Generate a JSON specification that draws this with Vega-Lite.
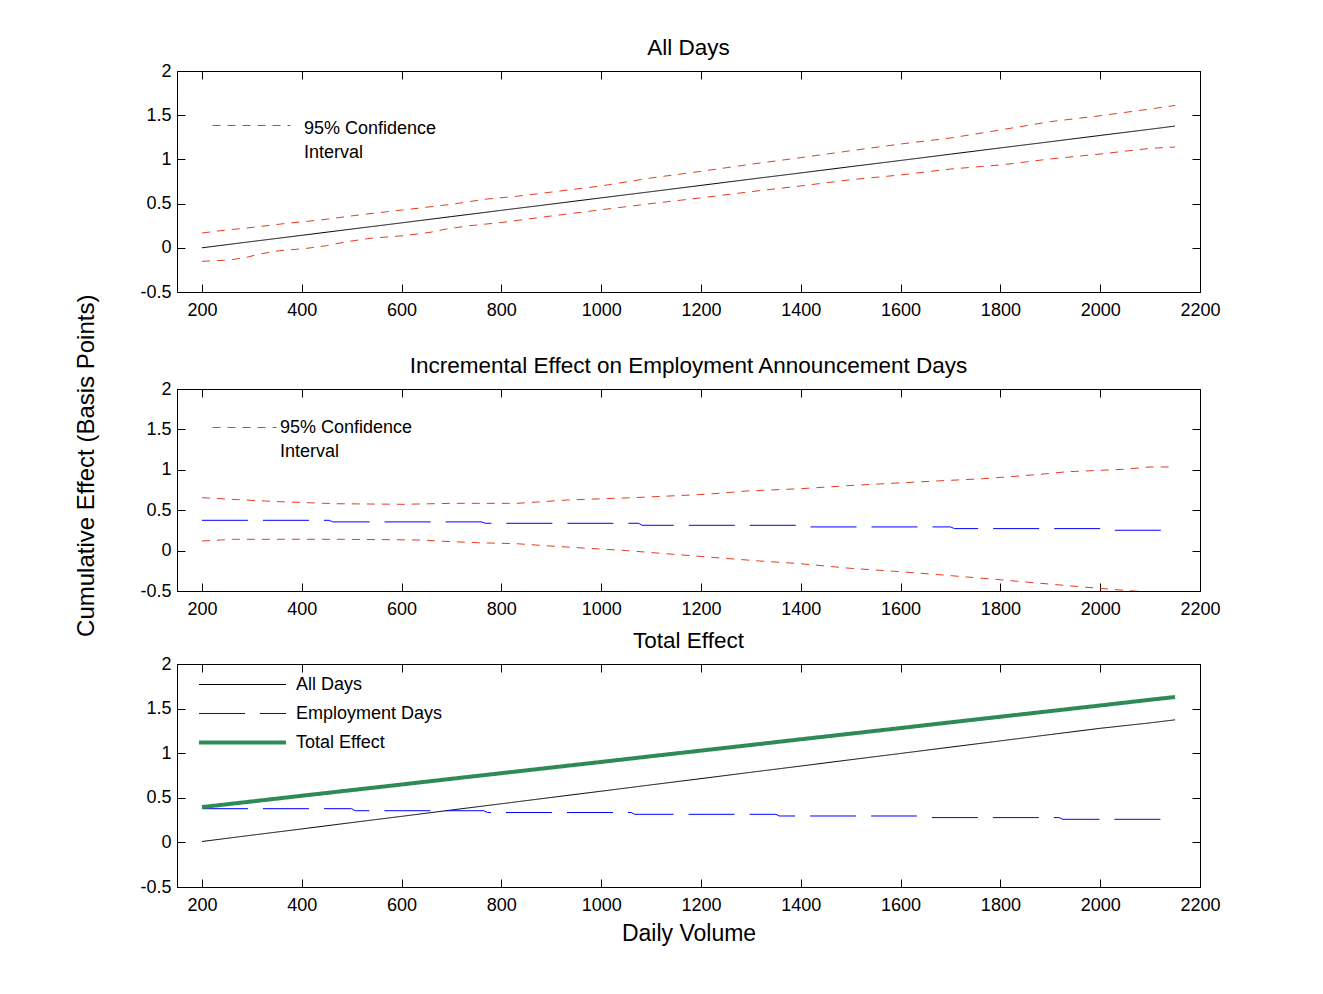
{
  "$schema": "https://vega.github.io/schema/vega-lite/v6.json",
  "background": "white",
  "padding": {"left": 75, "top": 36, "right": 0, "bottom": 0},
  "title": {"text": "Cumulative Effect (Basis Points)", "orient": "left", "anchor": "middle", "fontSize": 24, "fontWeight": "normal", "font": "Liberation Sans", "color": "black", "offset": 40, "dx": 25},
  "config": {
    "font": "Liberation Sans",
    "view": {"stroke": "black", "strokeWidth": 1},
    "title": {"fontSize": 22.5, "fontWeight": "normal", "font": "Liberation Sans", "color": "black", "offset": 3, "anchor": "middle"},
    "axis": {"grid": false, "domainColor": "black", "tickColor": "black", "labelColor": "black", "labelFont": "Liberation Sans", "labelFontSize": 18, "titleFont": "Liberation Sans", "titleFontSize": 23, "titleFontWeight": "normal", "titleColor": "black", "tickSize": -8, "labelFlush": false, "labelOverlap": false, "labelBound": false},
    "legend": {"labelFont": "Liberation Sans", "labelFontSize": 18, "labelColor": "black", "padding": 0, "rowPadding": 0, "labelLimit": 0}
  },
  "spacing": 10,
  "resolve": {
    "scale": {"x": "independent", "y": "independent", "color": "independent", "strokeDash": "independent", "strokeWidth": "independent"},
    "legend": {"color": "independent", "strokeDash": "independent", "strokeWidth": "independent"}
  },
  "datasets": {
    "p1": [
      {"s": "All Days", "b": "m", "x": 200, "y": 0.0},
      {"s": "All Days", "b": "m", "x": 300, "y": 0.071},
      {"s": "All Days", "b": "m", "x": 400, "y": 0.141},
      {"s": "All Days", "b": "m", "x": 500, "y": 0.212},
      {"s": "All Days", "b": "m", "x": 600, "y": 0.282},
      {"s": "All Days", "b": "m", "x": 700, "y": 0.353},
      {"s": "All Days", "b": "m", "x": 800, "y": 0.424},
      {"s": "All Days", "b": "m", "x": 900, "y": 0.494},
      {"s": "All Days", "b": "m", "x": 1000, "y": 0.565},
      {"s": "All Days", "b": "m", "x": 1100, "y": 0.635},
      {"s": "All Days", "b": "m", "x": 1200, "y": 0.706},
      {"s": "All Days", "b": "m", "x": 1300, "y": 0.777},
      {"s": "All Days", "b": "m", "x": 1400, "y": 0.847},
      {"s": "All Days", "b": "m", "x": 1500, "y": 0.918},
      {"s": "All Days", "b": "m", "x": 1600, "y": 0.988},
      {"s": "All Days", "b": "m", "x": 1700, "y": 1.059},
      {"s": "All Days", "b": "m", "x": 1800, "y": 1.13},
      {"s": "All Days", "b": "m", "x": 1900, "y": 1.2},
      {"s": "All Days", "b": "m", "x": 2000, "y": 1.271},
      {"s": "All Days", "b": "m", "x": 2100, "y": 1.341},
      {"s": "All Days", "b": "m", "x": 2150, "y": 1.377},
      {"s": "95% Confidence Interval", "b": "u", "x": 200, "y": 0.167},
      {"s": "95% Confidence Interval", "b": "u", "x": 236, "y": 0.193},
      {"s": "95% Confidence Interval", "b": "u", "x": 303, "y": 0.232},
      {"s": "95% Confidence Interval", "b": "u", "x": 370, "y": 0.277},
      {"s": "95% Confidence Interval", "b": "u", "x": 437, "y": 0.314},
      {"s": "95% Confidence Interval", "b": "u", "x": 503, "y": 0.363},
      {"s": "95% Confidence Interval", "b": "u", "x": 570, "y": 0.408},
      {"s": "95% Confidence Interval", "b": "u", "x": 637, "y": 0.45},
      {"s": "95% Confidence Interval", "b": "u", "x": 704, "y": 0.495},
      {"s": "95% Confidence Interval", "b": "u", "x": 771, "y": 0.552},
      {"s": "95% Confidence Interval", "b": "u", "x": 831, "y": 0.583},
      {"s": "95% Confidence Interval", "b": "u", "x": 900, "y": 0.63},
      {"s": "95% Confidence Interval", "b": "u", "x": 1000, "y": 0.7},
      {"s": "95% Confidence Interval", "b": "u", "x": 1100, "y": 0.79},
      {"s": "95% Confidence Interval", "b": "u", "x": 1200, "y": 0.865},
      {"s": "95% Confidence Interval", "b": "u", "x": 1300, "y": 0.945},
      {"s": "95% Confidence Interval", "b": "u", "x": 1400, "y": 1.02},
      {"s": "95% Confidence Interval", "b": "u", "x": 1500, "y": 1.098},
      {"s": "95% Confidence Interval", "b": "u", "x": 1600, "y": 1.174},
      {"s": "95% Confidence Interval", "b": "u", "x": 1700, "y": 1.242},
      {"s": "95% Confidence Interval", "b": "u", "x": 1800, "y": 1.333},
      {"s": "95% Confidence Interval", "b": "u", "x": 1900, "y": 1.427},
      {"s": "95% Confidence Interval", "b": "u", "x": 2000, "y": 1.494},
      {"s": "95% Confidence Interval", "b": "u", "x": 2100, "y": 1.57},
      {"s": "95% Confidence Interval", "b": "u", "x": 2150, "y": 1.61},
      {"s": "95% Confidence Interval", "b": "l", "x": 200, "y": -0.153},
      {"s": "95% Confidence Interval", "b": "l", "x": 256, "y": -0.138},
      {"s": "95% Confidence Interval", "b": "l", "x": 290, "y": -0.107},
      {"s": "95% Confidence Interval", "b": "l", "x": 316, "y": -0.07},
      {"s": "95% Confidence Interval", "b": "l", "x": 356, "y": -0.033},
      {"s": "95% Confidence Interval", "b": "l", "x": 410, "y": -0.006},
      {"s": "95% Confidence Interval", "b": "l", "x": 450, "y": 0.024},
      {"s": "95% Confidence Interval", "b": "l", "x": 490, "y": 0.069},
      {"s": "95% Confidence Interval", "b": "l", "x": 537, "y": 0.107},
      {"s": "95% Confidence Interval", "b": "l", "x": 603, "y": 0.137},
      {"s": "95% Confidence Interval", "b": "l", "x": 657, "y": 0.175},
      {"s": "95% Confidence Interval", "b": "l", "x": 690, "y": 0.213},
      {"s": "95% Confidence Interval", "b": "l", "x": 737, "y": 0.25},
      {"s": "95% Confidence Interval", "b": "l", "x": 803, "y": 0.288},
      {"s": "95% Confidence Interval", "b": "l", "x": 837, "y": 0.314},
      {"s": "95% Confidence Interval", "b": "l", "x": 900, "y": 0.36},
      {"s": "95% Confidence Interval", "b": "l", "x": 1000, "y": 0.43},
      {"s": "95% Confidence Interval", "b": "l", "x": 1100, "y": 0.5},
      {"s": "95% Confidence Interval", "b": "l", "x": 1200, "y": 0.565},
      {"s": "95% Confidence Interval", "b": "l", "x": 1300, "y": 0.635},
      {"s": "95% Confidence Interval", "b": "l", "x": 1400, "y": 0.7},
      {"s": "95% Confidence Interval", "b": "l", "x": 1500, "y": 0.77},
      {"s": "95% Confidence Interval", "b": "l", "x": 1600, "y": 0.824},
      {"s": "95% Confidence Interval", "b": "l", "x": 1700, "y": 0.891},
      {"s": "95% Confidence Interval", "b": "l", "x": 1800, "y": 0.937},
      {"s": "95% Confidence Interval", "b": "l", "x": 1900, "y": 1.005},
      {"s": "95% Confidence Interval", "b": "l", "x": 2000, "y": 1.061},
      {"s": "95% Confidence Interval", "b": "l", "x": 2100, "y": 1.125},
      {"s": "95% Confidence Interval", "b": "l", "x": 2150, "y": 1.14}
    ],
    "p2": [
      {"s": "Employment Days", "b": "m", "x": 200, "y": 0.375},
      {"s": "Employment Days", "b": "m", "x": 455, "y": 0.375},
      {"s": "Employment Days", "b": "m", "x": 462, "y": 0.355},
      {"s": "Employment Days", "b": "m", "x": 760, "y": 0.355},
      {"s": "Employment Days", "b": "m", "x": 768, "y": 0.338},
      {"s": "Employment Days", "b": "m", "x": 1075, "y": 0.338},
      {"s": "Employment Days", "b": "m", "x": 1082, "y": 0.313},
      {"s": "Employment Days", "b": "m", "x": 1390, "y": 0.313},
      {"s": "Employment Days", "b": "m", "x": 1398, "y": 0.293},
      {"s": "Employment Days", "b": "m", "x": 1700, "y": 0.293},
      {"s": "Employment Days", "b": "m", "x": 1708, "y": 0.272},
      {"s": "Employment Days", "b": "m", "x": 2014, "y": 0.272},
      {"s": "Employment Days", "b": "m", "x": 2022, "y": 0.252},
      {"s": "Employment Days", "b": "m", "x": 2150, "y": 0.252},
      {"s": "95% Confidence Interval", "b": "u", "x": 200, "y": 0.655},
      {"s": "95% Confidence Interval", "b": "u", "x": 273, "y": 0.63},
      {"s": "95% Confidence Interval", "b": "u", "x": 356, "y": 0.605},
      {"s": "95% Confidence Interval", "b": "u", "x": 470, "y": 0.58},
      {"s": "95% Confidence Interval", "b": "u", "x": 603, "y": 0.573},
      {"s": "95% Confidence Interval", "b": "u", "x": 703, "y": 0.585},
      {"s": "95% Confidence Interval", "b": "u", "x": 831, "y": 0.585},
      {"s": "95% Confidence Interval", "b": "u", "x": 931, "y": 0.626},
      {"s": "95% Confidence Interval", "b": "u", "x": 1064, "y": 0.655},
      {"s": "95% Confidence Interval", "b": "u", "x": 1211, "y": 0.697},
      {"s": "95% Confidence Interval", "b": "u", "x": 1292, "y": 0.738},
      {"s": "95% Confidence Interval", "b": "u", "x": 1399, "y": 0.766},
      {"s": "95% Confidence Interval", "b": "u", "x": 1506, "y": 0.808},
      {"s": "95% Confidence Interval", "b": "u", "x": 1632, "y": 0.849},
      {"s": "95% Confidence Interval", "b": "u", "x": 1766, "y": 0.89},
      {"s": "95% Confidence Interval", "b": "u", "x": 1880, "y": 0.944},
      {"s": "95% Confidence Interval", "b": "u", "x": 1933, "y": 0.976},
      {"s": "95% Confidence Interval", "b": "u", "x": 2047, "y": 1.006},
      {"s": "95% Confidence Interval", "b": "u", "x": 2100, "y": 1.035},
      {"s": "95% Confidence Interval", "b": "u", "x": 2150, "y": 1.035},
      {"s": "95% Confidence Interval", "b": "l", "x": 200, "y": 0.119},
      {"s": "95% Confidence Interval", "b": "l", "x": 263, "y": 0.14},
      {"s": "95% Confidence Interval", "b": "l", "x": 470, "y": 0.14},
      {"s": "95% Confidence Interval", "b": "l", "x": 644, "y": 0.131},
      {"s": "95% Confidence Interval", "b": "l", "x": 670, "y": 0.119},
      {"s": "95% Confidence Interval", "b": "l", "x": 751, "y": 0.098},
      {"s": "95% Confidence Interval", "b": "l", "x": 831, "y": 0.085},
      {"s": "95% Confidence Interval", "b": "l", "x": 897, "y": 0.057},
      {"s": "95% Confidence Interval", "b": "l", "x": 1051, "y": 0.0},
      {"s": "95% Confidence Interval", "b": "l", "x": 1145, "y": -0.046},
      {"s": "95% Confidence Interval", "b": "l", "x": 1232, "y": -0.088},
      {"s": "95% Confidence Interval", "b": "l", "x": 1318, "y": -0.129},
      {"s": "95% Confidence Interval", "b": "l", "x": 1399, "y": -0.162},
      {"s": "95% Confidence Interval", "b": "l", "x": 1499, "y": -0.219},
      {"s": "95% Confidence Interval", "b": "l", "x": 1599, "y": -0.261},
      {"s": "95% Confidence Interval", "b": "l", "x": 1666, "y": -0.293},
      {"s": "95% Confidence Interval", "b": "l", "x": 1766, "y": -0.343},
      {"s": "95% Confidence Interval", "b": "l", "x": 1866, "y": -0.397},
      {"s": "95% Confidence Interval", "b": "l", "x": 1966, "y": -0.45},
      {"s": "95% Confidence Interval", "b": "l", "x": 2047, "y": -0.491},
      {"s": "95% Confidence Interval", "b": "l", "x": 2100, "y": -0.515},
      {"s": "95% Confidence Interval", "b": "l", "x": 2150, "y": -0.54}
    ],
    "p3": [
      {"s": "All Days", "b": "a", "x": 200, "y": 0.01},
      {"s": "All Days", "b": "a", "x": 300, "y": 0.081},
      {"s": "All Days", "b": "a", "x": 400, "y": 0.151},
      {"s": "All Days", "b": "a", "x": 500, "y": 0.222},
      {"s": "All Days", "b": "a", "x": 600, "y": 0.292},
      {"s": "All Days", "b": "a", "x": 700, "y": 0.363},
      {"s": "All Days", "b": "a", "x": 800, "y": 0.433},
      {"s": "All Days", "b": "a", "x": 900, "y": 0.504},
      {"s": "All Days", "b": "a", "x": 1000, "y": 0.574},
      {"s": "All Days", "b": "a", "x": 1100, "y": 0.645},
      {"s": "All Days", "b": "a", "x": 1200, "y": 0.715},
      {"s": "All Days", "b": "a", "x": 1300, "y": 0.786},
      {"s": "All Days", "b": "a", "x": 1400, "y": 0.856},
      {"s": "All Days", "b": "a", "x": 1500, "y": 0.927},
      {"s": "All Days", "b": "a", "x": 1600, "y": 0.997},
      {"s": "All Days", "b": "a", "x": 1700, "y": 1.068},
      {"s": "All Days", "b": "a", "x": 1800, "y": 1.138},
      {"s": "All Days", "b": "a", "x": 1900, "y": 1.209},
      {"s": "All Days", "b": "a", "x": 2000, "y": 1.279},
      {"s": "All Days", "b": "a", "x": 2100, "y": 1.34},
      {"s": "All Days", "b": "a", "x": 2150, "y": 1.374},
      {"s": "Employment Days", "b": "e", "x": 200, "y": 0.378},
      {"s": "Employment Days", "b": "e", "x": 500, "y": 0.378},
      {"s": "Employment Days", "b": "e", "x": 507, "y": 0.355},
      {"s": "Employment Days", "b": "e", "x": 765, "y": 0.355},
      {"s": "Employment Days", "b": "e", "x": 772, "y": 0.335},
      {"s": "Employment Days", "b": "e", "x": 1060, "y": 0.335},
      {"s": "Employment Days", "b": "e", "x": 1067, "y": 0.315},
      {"s": "Employment Days", "b": "e", "x": 1350, "y": 0.315},
      {"s": "Employment Days", "b": "e", "x": 1357, "y": 0.296},
      {"s": "Employment Days", "b": "e", "x": 1632, "y": 0.296},
      {"s": "Employment Days", "b": "e", "x": 1640, "y": 0.278},
      {"s": "Employment Days", "b": "e", "x": 1918, "y": 0.278},
      {"s": "Employment Days", "b": "e", "x": 1925, "y": 0.259},
      {"s": "Employment Days", "b": "e", "x": 2150, "y": 0.259},
      {"s": "Total Effect", "b": "t", "x": 200, "y": 0.396},
      {"s": "Total Effect", "b": "t", "x": 300, "y": 0.459},
      {"s": "Total Effect", "b": "t", "x": 400, "y": 0.523},
      {"s": "Total Effect", "b": "t", "x": 500, "y": 0.586},
      {"s": "Total Effect", "b": "t", "x": 600, "y": 0.649},
      {"s": "Total Effect", "b": "t", "x": 700, "y": 0.713},
      {"s": "Total Effect", "b": "t", "x": 800, "y": 0.776},
      {"s": "Total Effect", "b": "t", "x": 900, "y": 0.839},
      {"s": "Total Effect", "b": "t", "x": 1000, "y": 0.902},
      {"s": "Total Effect", "b": "t", "x": 1100, "y": 0.966},
      {"s": "Total Effect", "b": "t", "x": 1200, "y": 1.029},
      {"s": "Total Effect", "b": "t", "x": 1300, "y": 1.092},
      {"s": "Total Effect", "b": "t", "x": 1400, "y": 1.156},
      {"s": "Total Effect", "b": "t", "x": 1500, "y": 1.219},
      {"s": "Total Effect", "b": "t", "x": 1600, "y": 1.282},
      {"s": "Total Effect", "b": "t", "x": 1700, "y": 1.346},
      {"s": "Total Effect", "b": "t", "x": 1800, "y": 1.409},
      {"s": "Total Effect", "b": "t", "x": 1900, "y": 1.472},
      {"s": "Total Effect", "b": "t", "x": 2000, "y": 1.535},
      {"s": "Total Effect", "b": "t", "x": 2100, "y": 1.599},
      {"s": "Total Effect", "b": "t", "x": 2150, "y": 1.63}
    ]
  },
  "vconcat": [
    {
      "title": {"text": "All Days"},
      "width": 1023,
      "height": 221,
      "data": {"name": "p1"},
      "resolve": {"axis": {"x": "independent", "y": "independent"}},
      "layer": [
        {
          "mark": {"type": "line", "clip": true},
          "encoding": {
            "x": {"field": "x", "type": "quantitative", "scale": {"domain": [150, 2200], "nice": false, "zero": false},
                  "axis": {"orient": "bottom", "values": [200, 400, 600, 800, 1000, 1200, 1400, 1600, 1800, 2000, 2200], "format": "d", "labelPadding": 17, "title": " ", "titlePadding": 1}},
            "y": {"field": "y", "type": "quantitative", "scale": {"domain": [-0.5, 2], "nice": false, "zero": false},
                  "axis": {"orient": "left", "values": [-0.5, 0, 0.5, 1, 1.5, 2], "labelExpr": "'' + datum.value", "labelPadding": 14, "title": null}},
            "detail": {"field": "b"},
            "color": {"field": "s", "type": "nominal",
                      "scale": {"domain": ["95% Confidence Interval", "All Days"], "range": ["#e63c1e", "#000000"]},
                      "legend": {"title": null, "orient": "none", "legendX": 35, "legendY": 15, "values": ["95% Confidence Interval"], "labelExpr": "['95% Confidence', 'Interval']", "symbolType": "stroke", "symbolSize": 6084, "labelOffset": 13, "labelBaseline": "middle", "encode": {"labels": {"update": {"lineHeight": {"value": 24}, "dy": {"value": 3}}}}}},
            "strokeDash": {"field": "s", "type": "nominal", "scale": {"domain": ["95% Confidence Interval", "All Days"], "range": [[8, 7], [1, 0]]},
                      "legend": {"title": null, "orient": "none", "legendX": 35, "legendY": 15, "values": ["95% Confidence Interval"], "labelExpr": "['95% Confidence', 'Interval']", "symbolType": "stroke", "symbolSize": 6084, "labelOffset": 13, "labelBaseline": "middle", "encode": {"labels": {"update": {"lineHeight": {"value": 24}, "dy": {"value": 3}}}}}},
            "strokeWidth": {"field": "s", "type": "nominal", "scale": {"type": "ordinal", "domain": ["95% Confidence Interval", "All Days"], "range": [1, 1]},
                      "legend": {"title": null, "orient": "none", "legendX": 35, "legendY": 15, "values": ["95% Confidence Interval"], "labelExpr": "['95% Confidence', 'Interval']", "symbolType": "stroke", "symbolSize": 6084, "labelOffset": 13, "labelBaseline": "middle", "encode": {"labels": {"update": {"lineHeight": {"value": 24}, "dy": {"value": 3}}}}}}
          }
        },
        {
          "mark": {"type": "line", "opacity": 0},
          "encoding": {
            "x": {"field": "x", "type": "quantitative", "axis": {"orient": "top", "values": [200, 400, 600, 800, 1000, 1200, 1400, 1600, 1800, 2000, 2200], "labels": false, "title": null}},
            "y": {"field": "y", "type": "quantitative", "axis": {"orient": "right", "values": [-0.5, 0, 0.5, 1, 1.5, 2], "labels": false, "title": null}},
            "detail": {"field": "b"}
          }
        }
      ]
    },
    {
      "title": {"text": "Incremental Effect on Employment Announcement Days"},
      "width": 1023,
      "height": 202,
      "data": {"name": "p2"},
      "resolve": {"axis": {"x": "independent", "y": "independent"}},
      "layer": [
        {
          "mark": {"type": "line", "clip": true},
          "encoding": {
            "x": {"field": "x", "type": "quantitative", "scale": {"domain": [150, 2200], "nice": false, "zero": false},
                  "axis": {"orient": "bottom", "values": [200, 400, 600, 800, 1000, 1200, 1400, 1600, 1800, 2000, 2200], "format": "d", "labelPadding": 17, "title": null}},
            "y": {"field": "y", "type": "quantitative", "scale": {"domain": [-0.5, 2], "nice": false, "zero": false},
                  "axis": {"orient": "left", "values": [-0.5, 0, 0.5, 1, 1.5, 2], "labelExpr": "'' + datum.value", "labelPadding": 14, "title": null}},
            "detail": {"field": "b"},
            "color": {"field": "s", "type": "nominal",
                      "scale": {"domain": ["95% Confidence Interval", "Employment Days"], "range": ["#e63c1e", "#0000ff"]},
                      "legend": {"title": null, "orient": "none", "legendX": 35, "legendY": 6, "values": ["95% Confidence Interval"], "labelExpr": "['95% Confidence', 'Interval']", "symbolType": "stroke", "symbolSize": 4096, "labelOffset": 3, "labelBaseline": "middle", "encode": {"labels": {"update": {"lineHeight": {"value": 24}}}}}},
            "strokeDash": {"field": "s", "type": "nominal", "scale": {"domain": ["95% Confidence Interval", "Employment Days"], "range": [[8, 7], [46, 15]]},
                      "legend": {"title": null, "orient": "none", "legendX": 35, "legendY": 6, "values": ["95% Confidence Interval"], "labelExpr": "['95% Confidence', 'Interval']", "symbolType": "stroke", "symbolSize": 4096, "labelOffset": 3, "labelBaseline": "middle", "encode": {"labels": {"update": {"lineHeight": {"value": 24}}}}}},
            "strokeWidth": {"field": "s", "type": "nominal", "scale": {"type": "ordinal", "domain": ["95% Confidence Interval", "Employment Days"], "range": [1, 1]},
                      "legend": {"title": null, "orient": "none", "legendX": 35, "legendY": 6, "values": ["95% Confidence Interval"], "labelExpr": "['95% Confidence', 'Interval']", "symbolType": "stroke", "symbolSize": 4096, "labelOffset": 3, "labelBaseline": "middle", "encode": {"labels": {"update": {"lineHeight": {"value": 24}}}}}}
          }
        },
        {
          "mark": {"type": "line", "opacity": 0},
          "encoding": {
            "x": {"field": "x", "type": "quantitative", "axis": {"orient": "top", "values": [200, 400, 600, 800, 1000, 1200, 1400, 1600, 1800, 2000, 2200], "labels": false, "title": null}},
            "y": {"field": "y", "type": "quantitative", "axis": {"orient": "right", "values": [-0.5, 0, 0.5, 1, 1.5, 2], "labels": false, "title": null}},
            "detail": {"field": "b"}
          }
        }
      ]
    },
    {
      "title": {"text": "Total Effect"},
      "width": 1023,
      "height": 223,
      "data": {"name": "p3"},
      "resolve": {"axis": {"x": "independent", "y": "independent"}},
      "layer": [
        {
          "mark": {"type": "line", "clip": true},
          "encoding": {
            "x": {"field": "x", "type": "quantitative", "scale": {"domain": [150, 2200], "nice": false, "zero": false},
                  "axis": {"orient": "bottom", "values": [200, 400, 600, 800, 1000, 1200, 1400, 1600, 1800, 2000, 2200], "format": "d", "labelPadding": 17, "title": "Daily Volume", "titleY": 53, "titleBaseline": "alphabetic"}},
            "y": {"field": "y", "type": "quantitative", "scale": {"domain": [-0.5, 2], "nice": false, "zero": false},
                  "axis": {"orient": "left", "values": [-0.5, 0, 0.5, 1, 1.5, 2], "labelExpr": "'' + datum.value", "labelPadding": 14, "title": null}},
            "detail": {"field": "b"},
            "color": {"field": "s", "type": "nominal",
                      "scale": {"domain": ["All Days", "Employment Days", "Total Effect"], "range": ["#000000", "#0000ff", "#2e8b57"]},
                      "legend": {"title": null, "orient": "none", "legendX": 20, "legendY": 6, "symbolType": "stroke", "symbolSize": 7569, "labelOffset": 8, "labelBaseline": "middle", "clipHeight": 29}},
            "strokeDash": {"field": "s", "type": "nominal", "scale": {"domain": ["All Days", "Employment Days", "Total Effect"], "range": [[1, 0], [46, 15], [1, 0]]},
                      "legend": {"title": null, "orient": "none", "legendX": 20, "legendY": 6, "symbolType": "stroke", "symbolSize": 7569, "labelOffset": 8, "labelBaseline": "middle", "clipHeight": 29}},
            "strokeWidth": {"field": "s", "type": "nominal", "scale": {"type": "ordinal", "domain": ["All Days", "Employment Days", "Total Effect"], "range": [1, 1, 4]},
                      "legend": {"title": null, "orient": "none", "legendX": 20, "legendY": 6, "symbolType": "stroke", "symbolSize": 7569, "labelOffset": 8, "labelBaseline": "middle", "clipHeight": 29}}
          }
        },
        {
          "mark": {"type": "line", "opacity": 0},
          "encoding": {
            "x": {"field": "x", "type": "quantitative", "axis": {"orient": "top", "values": [200, 400, 600, 800, 1000, 1200, 1400, 1600, 1800, 2000, 2200], "labels": false, "title": null}},
            "y": {"field": "y", "type": "quantitative", "axis": {"orient": "right", "values": [-0.5, 0, 0.5, 1, 1.5, 2], "labels": false, "title": null}},
            "detail": {"field": "b"}
          }
        }
      ]
    }
  ]
}
